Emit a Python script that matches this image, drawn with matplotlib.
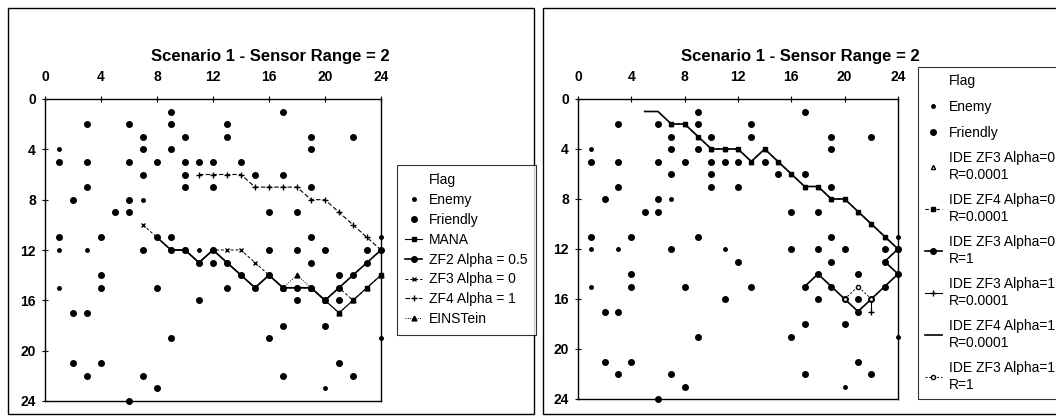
import matplotlib
matplotlib.use('Agg')
import matplotlib.pyplot as plt
from matplotlib.patches import Rectangle

plt.rcParams['font.family'] = ['Liberation Sans', 'DejaVu Sans']

title = 'Scenario 1 - Sensor Range = 2'
ticks = [0, 4, 8, 12, 16, 20, 24]

# flag (no visible marker in the legend)
flag_x = [24]
flag_y = [12]

# small dots
enemy_x = [1, 7, 1, 3, 11, 1, 20, 24, 24]
enemy_y = [4, 8, 12, 12, 12, 15, 23, 11, 19]

# larger dots
friendly_x = [9, 17, 3, 6, 9, 13, 7, 10, 13, 19, 22, 7, 9, 19, 1, 3, 6, 8, 10, 11, 12, 14,
              7, 10, 15, 17, 3, 10, 12, 19, 2, 6, 5, 6, 16, 18, 1, 4, 9, 19, 7, 16, 18, 20,
              23, 12, 19, 4, 21, 4, 8, 13, 11, 18, 21, 2, 3, 17, 20, 9, 16, 2, 4, 21, 3, 7,
              17, 22, 8, 6]
friendly_y = [1, 1, 2, 2, 2, 2, 3, 3, 3, 3, 3, 4, 4, 4, 5, 5, 5, 5, 5, 5, 5, 5,
              6, 6, 6, 6, 7, 7, 7, 7, 8, 8, 9, 9, 9, 9, 11, 11, 11, 11, 12, 12, 12, 12,
              12, 13, 13, 14, 14, 15, 15, 15, 16, 16, 16, 17, 17, 18, 18, 19, 19, 21, 21, 21, 22, 22,
              22, 22, 23, 24]

# left chart paths
mana_x = [9, 10, 11, 12, 13, 14, 15, 16, 17, 18, 19, 20, 21, 22, 23, 24]
mana_y = [12, 12, 13, 12, 13, 14, 15, 14, 15, 15, 15, 16, 17, 16, 15, 14]
zf2_x = [8, 9, 10, 11, 12, 13, 14, 15, 16, 17, 18, 19, 20, 21, 22, 23, 24]
zf2_y = [11, 12, 12, 13, 12, 13, 14, 15, 14, 15, 15, 15, 16, 15, 14, 13, 12]
zf3_x = [7, 8, 9, 10, 11, 12, 13, 14, 15, 16, 17, 18, 19, 20, 21, 22, 23, 24]
zf3_y = [10, 11, 12, 12, 13, 12, 12, 12, 13, 14, 15, 15, 15, 16, 15, 16, 15, 14]
zf4_x = [11, 12, 13, 14, 15, 16, 17, 18, 19, 20, 21, 22, 23, 24]
zf4_y = [6, 6, 6, 6, 7, 7, 7, 7, 8, 8, 9, 10, 11, 12]
ein_x = [17, 18, 19, 20, 21, 22, 23, 24]
ein_y = [15, 14, 15, 16, 17, 16, 15, 14]

# right chart paths
ide_zf3_a0_x = [7, 8, 9, 10, 11, 12, 13, 14, 15, 16, 17, 18, 19, 20, 21, 22, 23, 24]
ide_zf3_a0_y = [2, 2, 3, 4, 4, 4, 5, 4, 5, 6, 7, 7, 8, 8, 9, 10, 11, 12]
ide_zf4_a0_x = [7, 8, 9, 10, 11, 12, 13, 14, 15, 16, 17, 18, 19, 20, 21, 22, 23, 24]
ide_zf4_a0_y = [2, 2, 3, 4, 4, 4, 5, 4, 5, 6, 7, 7, 8, 8, 9, 10, 11, 12]
ide_zf3_a0_r1_x = [17, 18, 19, 20, 21, 22, 23, 24, 23, 24]
ide_zf3_a0_r1_y = [15, 14, 15, 16, 17, 16, 15, 14, 13, 12]
ide_zf3_a1_x = [22, 22]
ide_zf3_a1_y = [16, 17]
ide_zf4_a1_x = [5, 6, 7, 8, 9, 10, 11, 12, 13, 14, 15, 16, 17, 18, 19, 20, 21, 22, 23, 24]
ide_zf4_a1_y = [1, 1, 2, 2, 3, 4, 4, 4, 5, 4, 5, 6, 7, 7, 8, 8, 9, 10, 11, 12]
ide_zf3_a1_r1_x = [20, 21, 22]
ide_zf3_a1_r1_y = [16, 15, 16]

W, H = 1056, 416
fig = plt.figure(figsize=(W / 100, H / 100), dpi=100)
fig.set(facecolor='white')


def fx(px):
    return px / W


def fy(py):
    return 1 - py / H


# panel frames
fig.add_artist(Rectangle((fx(8), fy(414)), fx(534 - 8), (414 - 8) / H, transform=fig.transFigure,
                         fill=False, edgecolor='black', linewidth=1.0))
fig.add_artist(Rectangle((fx(543), fy(414)), fx(1070 - 543), (414 - 8) / H, transform=fig.transFigure,
                         fill=False, edgecolor='black', linewidth=1.0))


def setup(ax):
    ax.set_xlim(0, 24)
    ax.set_ylim(24, 0)
    ax.set_xticks(ticks)
    ax.set_yticks(ticks)
    ax.xaxis.tick_top()
    ax.tick_params(direction='inout', length=5, width=0.8, labelsize=10)
    ax.tick_params(axis='x', pad=8)
    ax.tick_params(axis='y', pad=4)
    for lab in ax.get_xticklabels() + ax.get_yticklabels():
        lab.set_fontweight('bold')
    for s in ax.spines.values():
        s.set_linewidth(1.0)


def scatter_flags(ax):
    ax.plot(flag_x, flag_y, ls='none', marker='None', label='Flag')
    ax.plot(enemy_x, enemy_y, ls='none', marker='o', ms=2.5, color='black', label='Enemy', clip_on=False)
    ax.plot(friendly_x, friendly_y, ls='none', marker='o', ms=4, color='black', label='Friendly', clip_on=False)


# left chart
ax1 = fig.add_axes([fx(45), fy(401), fx(381 - 45), (401 - 99) / H])
setup(ax1)
scatter_flags(ax1)
ax1.plot(mana_x, mana_y, color='black', lw=0.8, marker='s', ms=3.5, label='MANA', clip_on=False)
ax1.plot(zf2_x, zf2_y, color='black', lw=1.2, marker='o', ms=4, label='ZF2 Alpha = 0.5', clip_on=False)
ax1.plot(zf3_x, zf3_y, color='black', lw=0.7, ls=(0, (3, 2)), marker='x', ms=3.5, label='ZF3 Alpha = 0', clip_on=False)
ax1.plot(zf4_x, zf4_y, color='black', lw=0.8, ls=(0, (4, 2)), marker='+', ms=5, label='ZF4 Alpha = 1', clip_on=False)
ax1.plot(ein_x, ein_y, color='black', lw=0.7, ls=(0, (1, 1.5)), marker='^', ms=3.5, label='EINSTein', clip_on=False)
fig.text(fx(270), fy(57), title, ha='center', va='center', fontsize=12, fontweight='bold')
leg1 = fig.legend(handles=ax1.get_lines(), loc='upper left', bbox_to_anchor=(fx(397), fy(165)),
                  frameon=True, fancybox=False, edgecolor='black', fontsize=10, labelspacing=0.42,
                  handlelength=1.2, handletextpad=0.5, borderpad=0.6, borderaxespad=0)
leg1.get_frame().set_linewidth(0.8)

# right chart
ax2 = fig.add_axes([fx(578), fy(399), fx(898 - 578), (399 - 99) / H])
setup(ax2)
scatter_flags(ax2)
ax2.plot(ide_zf3_a0_x, ide_zf3_a0_y, color='black', lw=0.6, ls='none', marker='^', ms=3, mfc='white',
         label='IDE ZF3 Alpha=0\nR=0.0001', clip_on=False)
ax2.plot(ide_zf4_a0_x, ide_zf4_a0_y, color='black', lw=0.8, ls=(0, (3, 2)), marker='s', ms=3.5,
         label='IDE ZF4 Alpha=0\nR=0.0001', clip_on=False)
ax2.plot(ide_zf3_a0_r1_x, ide_zf3_a0_r1_y, color='black', lw=1.2, marker='o', ms=4,
         label='IDE ZF3 Alpha=0\nR=1', clip_on=False)
ax2.plot(ide_zf3_a1_x, ide_zf3_a1_y, color='black', lw=0.8, marker='+', ms=5,
         label='IDE ZF3 Alpha=1\nR=0.0001', clip_on=False)
ax2.plot(ide_zf4_a1_x, ide_zf4_a1_y, color='black', lw=1.2, marker='None',
         label='IDE ZF4 Alpha=1\nR=0.0001', clip_on=False)
ax2.plot(ide_zf3_a1_r1_x, ide_zf3_a1_r1_y, color='black', lw=0.7, ls=(0, (2, 2)), marker='o', ms=3, mfc='white',
         label='IDE ZF3 Alpha=1\nR=1', clip_on=False)
fig.text(fx(800), fy(57), title, ha='center', va='center', fontsize=12, fontweight='bold')
leg2 = fig.legend(handles=ax2.get_lines(), loc='upper left', bbox_to_anchor=(fx(918), fy(67)),
                  frameon=True, fancybox=False, edgecolor='black', fontsize=10, labelspacing=0.85,
                  handlelength=1.2, handletextpad=0.5, borderpad=0.5, borderaxespad=0)
leg2.get_frame().set_linewidth(0.8)

fig.savefig('out.png', dpi=100)
